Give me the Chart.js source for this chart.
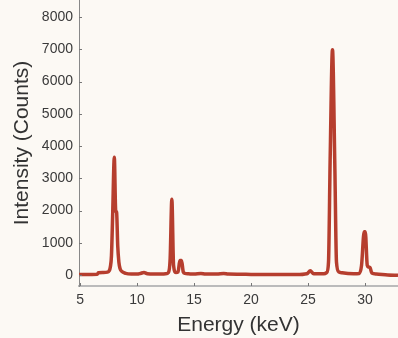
<!DOCTYPE html>
<html>
<head>
<meta charset="utf-8">
<script src="https://cdn.jsdelivr.net/npm/chart.js@4.4.1/dist/chart.umd.min.js"></script>
<style>
  html, body { margin: 0; padding: 0; background: #fcf9f4; }
  #wrap { width: 398px; height: 338px; position: relative; }
</style>
</head>
<body>
<div id="wrap"><canvas id="c"></canvas></div>
<script>
// spectrum: energy (keV) and counts
const energy = [4.9, 5.5, 6.0, 6.5, 6.6, 7.0, 7.4, 7.55, 7.65, 7.75, 7.85, 8.0, 8.12, 8.2, 8.3, 8.4, 8.5, 8.7, 9.0, 9.5, 10.0, 10.3, 10.6, 10.9, 11.5, 12.0, 12.5, 12.75, 12.9, 13.05, 13.2, 13.4, 13.6, 13.75, 13.9, 14.05, 14.2, 14.5, 15.0, 15.6, 16.0, 17.0, 17.6, 18.0, 19.0, 20.0, 22.0, 24.0, 24.9, 25.2, 25.5, 26.4, 26.65, 26.8, 26.95, 27.15, 27.35, 27.5, 27.7, 28.0, 29.0, 29.5, 29.7, 29.93, 30.03, 30.2, 30.3, 30.45, 30.6, 31.0, 32.0, 32.9];
const counts = [20, 15, 20, 25, 70, 80, 90, 130, 250, 600, 1800, 3650, 2000, 1950, 900, 400, 200, 100, 50, 30, 30, 50, 80, 40, 30, 30, 40, 80, 500, 2350, 300, 80, 100, 450, 450, 100, 50, 40, 30, 50, 30, 30, 50, 30, 25, 20, 15, 15, 40, 130, 40, 40, 80, 400, 3700, 6990, 3500, 400, 100, 70, 40, 50, 300, 1340, 1340, 300, 250, 230, 60, 30, 0, -10];
const xTicks = [5, 10, 15, 20, 25, 30];
const yTicks = [0, 1000, 2000, 3000, 4000, 5000, 6000, 7000, 8000];

const points = energy.map((e, i) => ({ x: e, y: counts[i] }));
const FONT = 'Liberation Sans';

// small inward tick marks, as in the reference
const innerTicks = {
    id: 'innerTicks',
    afterDraw(chart) {
        const { ctx, chartArea, scales } = chart;
        ctx.save();
        ctx.strokeStyle = '#777';
        ctx.lineWidth = 1;
        xTicks.forEach(v => {
            const px = Math.round(scales.x.getPixelForValue(v)) + 0.5;
            ctx.beginPath();
            ctx.moveTo(px, chartArea.bottom);
            ctx.lineTo(px, chartArea.bottom - 3);
            ctx.stroke();
        });
        yTicks.forEach(v => {
            const py = Math.round(scales.y.getPixelForValue(v)) + 0.5;
            ctx.beginPath();
            ctx.moveTo(chartArea.left, py);
            ctx.lineTo(chartArea.left + 3, py);
            ctx.stroke();
        });
        ctx.restore();
    }
};

new Chart(document.getElementById('c').getContext('2d'), {
    type: 'line',
    data: {
        datasets: [{
            data: points,
            borderColor: 'rgb(182,62,46)',
            borderWidth: 3.5,
            pointRadius: 0,
            cubicInterpolationMode: 'monotone',
            fill: false,
        }]
    },
    options: {
        responsive: true,
        maintainAspectRatio: false,
        animation: false,
        layout: { padding: 0 },
        plugins: { legend: { display: false }, tooltip: { enabled: false } },
        scales: {
            x: {
                type: 'linear',
                min: 4.9,
                max: 32.9,
                afterBuildTicks: s => { s.ticks = xTicks.map(v => ({ value: v })); },
                afterFit: s => { s.height = 52; s.paddingLeft = 0; s.paddingRight = 0; },
                ticks: { color: '#3a3a3a', font: { family: FONT, size: 14 }, padding: 6 },
                grid: { display: true, drawOnChartArea: false, drawTicks: false, color: '#bbb' },
                border: { color: '#bbb', width: 2 },
                title: { display: true, text: 'Energy (keV)', color: '#333', font: { family: FONT, size: 21 }, padding: { top: 0, bottom: 0 } }
            },
            y: {
                min: -340,
                max: 8530,
                afterBuildTicks: s => { s.ticks = yTicks.map(v => ({ value: v })); },
                afterFit: s => { s.width = 79; s.paddingTop = 0; s.paddingBottom = 0; },
                ticks: { color: '#3a3a3a', font: { family: FONT, size: 14 }, padding: 6, callback: v => String(v) },
                grid: { display: true, drawOnChartArea: false, drawTicks: false, color: '#888' },
                border: { color: '#888', width: 1 },
                title: { display: true, text: 'Intensity (Counts)', color: '#333', font: { family: FONT, size: 21 }, padding: { top: 10, bottom: 0 } }
            }
        }
    },
    plugins: [innerTicks]
});
</script>
</body>
</html>
